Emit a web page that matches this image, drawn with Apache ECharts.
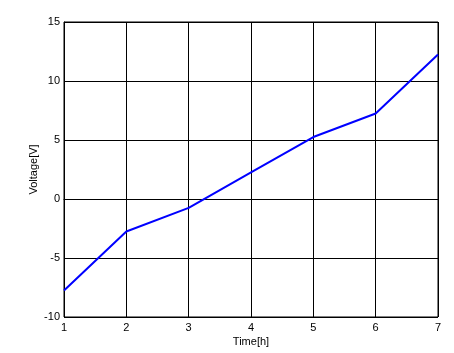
<!DOCTYPE html>
<html>
<head>
<meta charset="utf-8">
<script src="https://cdn.jsdelivr.net/npm/echarts@6/dist/echarts.min.js"></script>
<style>html,body{margin:0;padding:0;background:#fff;}#c{width:454px;height:353px;}</style>
</head>
<body>
<div id="c"></div>
<script>
const timeHours = [1, 2, 3, 4, 5, 6, 7];
const voltage = [-7.75, -2.75, -0.75, 2.25, 5.25, 7.25, 12.25];
const xName = 'Time[h]';
const yName = 'Voltage[V]';

const chart = echarts.init(document.getElementById('c'), null, {renderer: 'canvas'});
const font = {fontFamily: 'Liberation Sans, Arial, sans-serif', fontSize: 11, color: '#000'};
chart.setOption({
  animation: false,
  backgroundColor: '#fff',
  grid: {left: 64, top: 22, right: 16, bottom: 36, show: true, borderColor: '#000', borderWidth: 1,
         backgroundColor: 'transparent', containLabel: false, outerBoundsMode: 'none'},
  xAxis: {
    type: 'value', min: 1, max: 7, interval: 1,
    name: xName, nameLocation: 'middle', nameGap: 19, nameMoveOverlap: false,
    nameTextStyle: Object.assign({}, font),
    axisLine: {show: true, lineStyle: {color: '#000', width: 1}},
    axisTick: {show: true, inside: true, length: 3, lineStyle: {color: '#000'}},
    axisLabel: Object.assign({margin: 5}, font),
    splitLine: {show: true, lineStyle: {color: '#000', width: 1}}
  },
  yAxis: {
    type: 'value', min: -10, max: 15, interval: 5,
    name: yName, nameLocation: 'middle', nameGap: 25, nameMoveOverlap: false,
    nameTextStyle: Object.assign({}, font),
    axisLine: {show: true, lineStyle: {color: '#000', width: 1}},
    axisTick: {show: true, inside: true, length: 3, lineStyle: {color: '#000'}},
    axisLabel: Object.assign({margin: 4}, font),
    splitLine: {show: true, lineStyle: {color: '#000', width: 1}}
  },
  series: [{
    type: 'line',
    data: timeHours.map((t, i) => [t, voltage[i]]),
    showSymbol: false,
    lineStyle: {color: '#0000ff', width: 2},
    itemStyle: {color: '#0000ff'}
  }]
});
</script>
</body>
</html>
